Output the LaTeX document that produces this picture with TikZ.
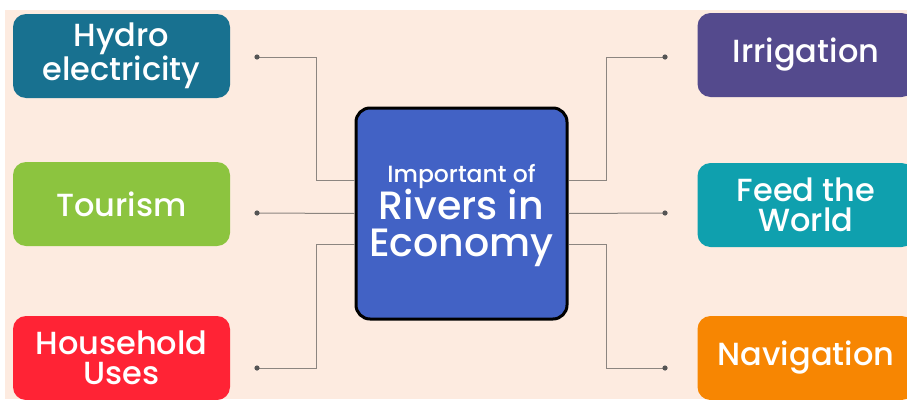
\documentclass[tikz,border=0pt]{standalone}
\usepackage{fontspec}
\setmainfont{Poppins Medium}
\usetikzlibrary{positioning}

\definecolor{bgpeach}{HTML}{FDEBE0}
\definecolor{hydroc}{HTML}{187190}
\definecolor{tourc}{HTML}{8CC43F}
\definecolor{housec}{HTML}{FF2335}
\definecolor{irrc}{HTML}{544A8D}
\definecolor{feedc}{HTML}{0FA0AE}
\definecolor{navc}{HTML}{F78602}
\definecolor{centc}{HTML}{4262C5}
\definecolor{linkc}{HTML}{8C8580}
\definecolor{dotc}{HTML}{555555}

\begin{document}
\begin{tikzpicture}[
  x=1pt, y=-1pt,
  topic/.style={rounded corners=13pt, minimum width=217pt, minimum height=84pt,
    inner sep=0pt, text=white, align=center, font=\fontsize{32}{30}\selectfont},
  hub/.style={rounded corners=14pt, minimum width=211pt, minimum height=211pt,
    draw=black, line width=3pt, fill=centc, text=white, align=center,
    font=\fontsize{39.5}{37}\selectfont},
  link/.style={draw=linkc, line width=1pt},
  pin/.style={fill=dotc}
]
\useasboundingbox (0,0) rectangle (907,399);
\clip (0,0) rectangle (907,399);
\fill[white] (0,0) rectangle (907,399);
\fill[bgpeach] (5,10) rectangle (907,399);

\node [hub] (rivers) at (461.5,213.5)
  {{\fontsize{23.5}{36}\selectfont\rule{0pt}{22pt}Important of}\\Rivers in\\Economy};

\node [topic, fill=hydroc] (hydro) at (121.5,56) {Hydro\\electricity};
\node [topic, fill=tourc] (tour) at (121.5,204) {Tourism};
\node [topic, fill=housec] (house) at (121.5,358) {Household\\Uses};
\node [topic, fill=irrc] (irr) at (806,55) {Irrigation};
\node [topic, fill=feedc] (feed) at (806,205) {Feed the\\World};
\node [topic, fill=navc] (nav) at (806,358) {Navigation};

\coordinate (hydro-pin) at (257,57);
\coordinate (tour-pin) at (257,213);
\coordinate (house-pin) at (257,368);
\coordinate (irr-pin) at (665,57);
\coordinate (feed-pin) at (665,213);
\coordinate (nav-pin) at (665,368);

\draw [link] (hydro-pin) -- ++(59,0) |- ([yshift=33pt]rivers.west);
\draw [link] (tour-pin) -- (rivers.west);
\draw [link] (house-pin) -- ++(59,0) |- ([yshift=-31pt]rivers.west);
\draw [link] (irr-pin) -- ++(-59,0) |- ([yshift=33pt]rivers.east);
\draw [link] (feed-pin) -- (rivers.east);
\draw [link] (nav-pin) -- ++(-59,0) |- ([yshift=-31pt]rivers.east);

\foreach \p in {hydro,tour,house,irr,feed,nav}
  \path [pin] (\p-pin) circle [radius=2.6];
\end{tikzpicture}
\end{document}
